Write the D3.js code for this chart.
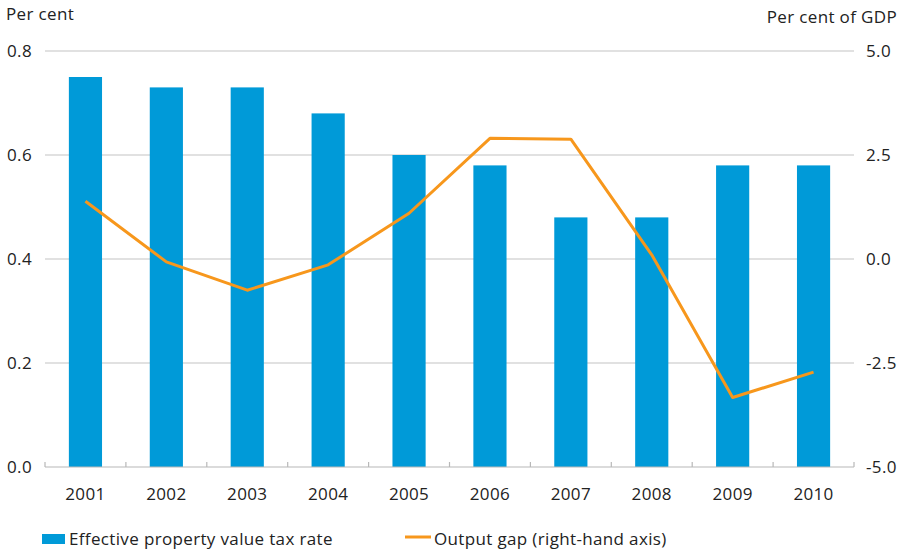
<!DOCTYPE html>
<html><head><meta charset="utf-8">
<script src="https://cdn.jsdelivr.net/npm/d3@7/dist/d3.min.js"></script>
<style>
body{margin:0;background:#fff;}
text{font-family:"Open Sans","Noto Sans",sans-serif;fill:#222;letter-spacing:0.35px;}
</style></head>
<body><svg id="c" width="903" height="551"></svg>
<script>
const years = ["2001","2002","2003","2004","2005","2006","2007","2008","2009","2010"];
const taxRate = [0.75,0.73,0.73,0.68,0.60,0.58,0.48,0.48,0.58,0.58];
const outputGap = [1.39,-0.07,-0.75,-0.14,1.1,2.9,2.88,0.1,-3.33,-2.72];
const leftTicks = [0.0,0.2,0.4,0.6,0.8];
const rightTicks = [-5.0,-2.5,0.0,2.5,5.0];

const svg = d3.select("#c");
const L=45,R=854,T=51,B=467;
const FS=17;
const x = d3.scaleBand().domain(years).range([L,R]).paddingInner(0.59).paddingOuter(0.295);
const xb = d3.scaleBand().domain(years).range([L,R]);
const yl = d3.scaleLinear().domain([0,0.8]).range([B,T]);
const yr = d3.scaleLinear().domain([-5,5]).range([B,T]);

// gridlines
svg.append("g").selectAll("line").data(leftTicks.filter(d=>d>0)).join("line")
  .attr("x1",L).attr("x2",R).attr("y1",d=>yl(d)).attr("y2",d=>yl(d))
  .attr("stroke","#c4c4c4").attr("stroke-width",1.2);

// bars
svg.append("g").selectAll("rect").data(taxRate).join("rect")
  .attr("x",(d,i)=>x(years[i])).attr("width",x.bandwidth())
  .attr("y",d=>yl(d)).attr("height",d=>yl(0)-yl(d)).attr("fill","#009ad8");

// bottom axis
const ax = svg.append("g");
ax.append("line").attr("x1",L).attr("x2",R).attr("y1",B).attr("y2",B).attr("stroke","#b8b8b8").attr("stroke-width",1.2);
ax.selectAll("line.t").data(d3.range(years.length+1)).join("line").attr("class","t")
  .attr("x1",i=>L+i*xb.step()).attr("x2",i=>L+i*xb.step()).attr("y1",B-5).attr("y2",B)
  .attr("stroke","#b8b8b8").attr("stroke-width",1.2);
ax.selectAll("text").data(years).join("text")
  .attr("x",d=>xb(d)+xb.bandwidth()/2).attr("y",500).attr("text-anchor","middle")
  .attr("font-size",FS).text(d=>d);

// left labels
svg.append("g").selectAll("text").data(leftTicks).join("text")
  .attr("x",32).attr("y",d=>yl(d)+6).attr("text-anchor","end").attr("font-size",FS)
  .text(d=>d3.format(".1f")(d));
// right labels
svg.append("g").selectAll("text").data(rightTicks).join("text")
  .attr("x",866).attr("y",d=>yr(d)+6).attr("text-anchor","start").attr("font-size",FS)
  .text(d=>d3.format(".1f")(d).replace("−","-"));

svg.append("text").attr("x",6).attr("y",20).attr("font-size",FS).text("Per cent");
svg.append("text").attr("x",897).attr("y",23).attr("text-anchor","end").attr("font-size",FS).text("Per cent of GDP");

// line
const line = d3.line().x((d,i)=>xb(years[i])+xb.bandwidth()/2).y(d=>yr(d));
svg.append("path").datum(outputGap).attr("d",line).attr("fill","none")
  .attr("stroke","#f7971c").attr("stroke-width",3).attr("stroke-linejoin","round");

// legend
svg.append("rect").attr("x",42).attr("y",534).attr("width",23).attr("height",10).attr("fill","#009ad8");
svg.append("text").attr("x",69).attr("y",545).attr("font-size",FS).text("Effective property value tax rate");
svg.append("line").attr("x1",405).attr("x2",431).attr("y1",537).attr("y2",537).attr("stroke","#f7971c").attr("stroke-width",3);
svg.append("text").attr("x",434).attr("y",545).attr("font-size",FS).text("Output gap (right-hand axis)");
</script></body></html>
